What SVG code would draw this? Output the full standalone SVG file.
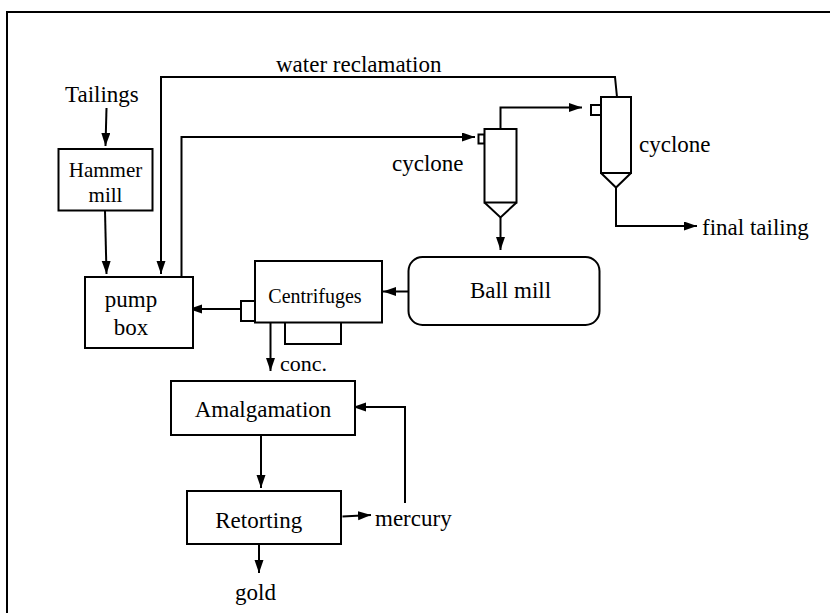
<svg xmlns="http://www.w3.org/2000/svg" width="830" height="613" viewBox="0 0 830 613" font-family="'Liberation Serif', 'Times New Roman', Times, serif">
<defs>
<style>
.b{fill:none;stroke:#000;stroke-width:2}
.n{fill:#fff;stroke:#000;stroke-width:2}
.c{fill:none;stroke:#000;stroke-width:2}
.a{marker-end:url(#ah)}
text{font-family:'Liberation Serif','Times New Roman',Times,serif;font-size:23px;fill:#000}
.m{text-anchor:middle}
.s20{font-size:20px}
.s21{font-size:21px}
.s22{font-size:22px}
</style>
<marker id="ah" markerUnits="userSpaceOnUse" markerWidth="14" markerHeight="10" refX="13" refY="4.5" orient="auto">
<path d="M0,0 L13,4.5 L0,9 z" fill="#000"/>
</marker>
</defs>
<rect width="830" height="613" fill="#fff"/>
<path class="b" d="M7,614 V12 H831"/>

<g id="connectors">
<path class="c a" d="M106.5,108 L105.5,146"/>
<path class="c a" d="M105,211 L106.5,274"/>
<path class="c a" d="M617,97 L615,77 H161 V274"/>
<path class="c a" d="M181.5,279 V137 H475"/>
<path class="c a" d="M500.5,129 V107.5 H582"/>
<path class="c a" d="M500.5,217.5 V250"/>
<path class="c a" d="M616,187.5 V226 H697"/>
<path class="c a" d="M408.5,291.5 H383"/>
<path class="c a" d="M241,309 H189"/>
<path class="c a" d="M270.5,322.5 V371"/>
<path class="c a" d="M261,435 V488"/>
<path class="c a" d="M342.5,516.5 L371,515"/>
<path class="c a" d="M405,503 V407 H353"/>
<path class="c a" d="M259,544.5 V573"/>
</g>

<g id="tailings"><text x="65" y="102">Tailings</text></g>
<g id="hammer-mill">
<rect class="n" x="58.5" y="149" width="94" height="61.5"/>
<text class="m s21" x="105.5" y="177">Hammer</text>
<text class="m s21" x="105.5" y="202">mill</text>
</g>
<g id="pump-box">
<rect class="n" x="85" y="277" width="108" height="71"/>
<text class="m" x="131" y="307">pump</text>
<text class="m" x="131" y="335">box</text>
</g>
<g id="water-reclamation"><text x="276" y="72">water reclamation</text></g>
<g id="cyclone1">
<rect class="n" x="478.5" y="134.5" width="6" height="9"/>
<rect class="n" x="484.5" y="129" width="32" height="73.5"/>
<path class="b" d="M484.5,202.5 L500.5,217.5 L516.5,202.5"/>
<text x="392" y="171">cyclone</text>
</g>
<g id="cyclone2">
<rect class="n" x="591" y="105" width="10" height="10"/>
<rect class="n" x="601" y="97" width="30" height="76"/>
<path class="b" d="M601,173 L616,187.5 L631,173"/>
<text x="639" y="152">cyclone</text>
</g>
<g id="final-tailing"><text x="702" y="235">final tailing</text></g>
<g id="ball-mill">
<rect class="n" x="408.5" y="257" width="191" height="68" rx="14"/>
<text class="m" x="510.5" y="298">Ball mill</text>
</g>
<g id="centrifuges">
<rect class="n" x="255" y="261" width="127" height="61.5"/>
<rect class="n" x="241" y="301" width="14" height="20"/>
<path class="b" d="M285,322.5 V344 H341 V322.5"/>
<text class="m s20" x="315" y="303">Centrifuges</text>
</g>
<g id="conc"><text class="s22" x="280" y="371">conc.</text></g>
<g id="amalgamation">
<rect class="n" x="171" y="381" width="184" height="54"/>
<text class="m" x="263" y="417">Amalgamation</text>
</g>
<g id="retorting">
<rect class="n" x="187" y="491" width="154" height="53"/>
<text class="m" x="258.7" y="528">Retorting</text>
</g>
<g id="mercury"><text x="375" y="526">mercury</text></g>
<g id="gold"><text x="235" y="600">gold</text></g>
</svg>
